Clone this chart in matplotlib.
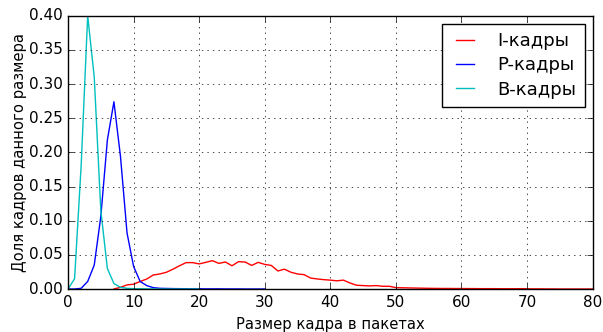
import matplotlib
matplotlib.use("Agg")
import matplotlib.pyplot as plt
import numpy as np

# размер кадра (в пакетах) -> доля кадров
sizes_i = list(range(7, 81))
share_i = [0.0, 0.0025, 0.006, 0.007, 0.011, 0.0146, 0.0205, 0.022, 0.0245,
           0.029, 0.034, 0.0386, 0.0386, 0.0367, 0.039, 0.0415, 0.0375,
           0.0395, 0.034, 0.04, 0.0395, 0.0345, 0.039, 0.036, 0.0345, 0.0264,
           0.029, 0.0245, 0.022, 0.021, 0.016, 0.0147, 0.0137, 0.013, 0.012,
           0.013, 0.0088, 0.0055, 0.005, 0.0045, 0.005, 0.004, 0.004, 0.002,
           0.0018, 0.0016, 0.0014, 0.0012, 0.001, 0.0009, 0.0008, 0.0008,
           0.0007, 0.0007, 0.0006, 0.0006, 0.0005, 0.0005, 0.0005, 0.0004,
           0.0004, 0.0004, 0.0005, 0.0003, 0.0002, 0.0002, 0.0001, 0.0001,
           0.0, 0.0, 0.0, 0.0, 0.0, 0.0]

sizes_p = list(range(0, 31))
share_p = [0.0, 0.0, 0.001, 0.011, 0.035, 0.106, 0.218, 0.274, 0.194, 0.082,
           0.033, 0.011, 0.005, 0.002, 0.001, 0.0008, 0.0006, 0.0005, 0.0004,
           0.0003, 0.0003, 0.0002, 0.0002, 0.0002, 0.0001, 0.0001, 0.0001,
           0.0, 0.0, 0.0, 0.0]

sizes_b = list(range(0, 21))
share_b = [0.0, 0.015, 0.18, 0.40, 0.31, 0.115, 0.03, 0.008, 0.0025, 0.001,
           0.0005, 0.0003, 0.0002, 0.0001, 0.0, 0.0, 0.0, 0.0, 0.0, 0.0, 0.0]

labels = ["I-кадры", "P-кадры", "B-кадры"]


def draw():
    plt.style.use("classic")
    plt.rcParams["font.family"] = ["DejaVu Sans"]
    fig = plt.figure(figsize=(6.03, 3.32), dpi=100, facecolor="white")
    ax = fig.add_axes([0.1128, 0.1295, 0.8700, 0.8233])

    ax.plot(sizes_i, share_i, "r", label=labels[0])
    ax.plot(sizes_p, share_p, "b", label=labels[1])
    ax.plot(sizes_b, share_b, "c", label=labels[2])

    ax.set_xlim(0, 80)
    ax.set_ylim(0, 0.4)
    ax.set_xticks(np.arange(0, 81, 10))
    ax.set_yticks(np.arange(0, 0.401, 0.05))
    ax.set_yticklabels(["%.2f" % v for v in np.arange(0, 0.401, 0.05)])
    ax.tick_params(labelsize=11)
    ax.grid(True)
    ax.set_xlabel("Размер кадра в пакетах", fontsize=10.6)
    ax.set_ylabel("Доля кадров данного размера", fontsize=10.6, labelpad=1)
    ax.legend(loc="upper right", fontsize=13, handlelength=1.6,
              handletextpad=1.0, labelspacing=0.35, borderpad=0.45,
              borderaxespad=0.45)
    fig.savefig("out.png", dpi=100, facecolor="white")


if __name__ == "__main__":
    draw()
